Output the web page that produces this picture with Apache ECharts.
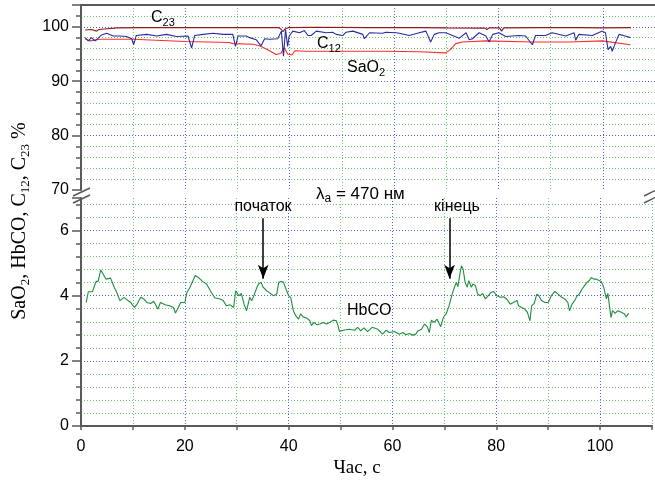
<!DOCTYPE html>
<html>
<head>
<meta charset="utf-8">
<script src="https://cdn.jsdelivr.net/npm/echarts@6/dist/echarts.min.js"></script>
<style>
  html, body { margin: 0; padding: 0; background: #fff; }
  #chart { width: 655px; height: 483px; }
</style>
</head>
<body>
<div id="chart"></div>
<script>
// ---- tick labels ----
const xTickLabels = [0, 20, 40, 60, 80, 100];
const yTopTickLabels = [70, 80, 90, 100];
const yBottomTickLabels = [0, 2, 4, 6];

// ---- C23, % ----
const c23T = [0.8, 2.0, 3.0, 3.4, 4.5, 7.0, 12, 20, 30, 37.9, 38.4, 38.7, 39.1, 39.8, 45, 55, 65, 70, 77.4, 77.8, 78.2, 80.2, 80.6, 81.0, 88, 95, 100, 105.4];
const c23V = [99.4, 99.5, 99.2, 99.5, 99.6, 99.8, 99.85, 99.85, 99.85, 99.85, 99.5, 99.1, 99.6, 99.85, 99.9, 99.85, 99.85, 99.8, 99.75, 99.5, 99.8, 99.8, 99.2, 99.8, 99.85, 99.85, 99.8, 99.85];

// ---- C12, % ----
const c12T = [0.76, 1.4, 2.0, 2.7, 3.3, 3.95, 4.9, 6.2, 7.5, 8.7, 9.7, 10.1, 10.6, 12.6, 14.5, 16.4, 18.3, 20.5, 21.2, 21.8,
  23.4, 25.3, 27.2, 29.1, 29.6, 30.1, 31.7, 32.3, 33.6, 34.5, 35.2, 36.1, 37.7, 38.4, 38.8, 39.2, 39.6, 39.9, 40.6, 41.9,
  42.8, 43.5, 44.1, 45.1, 47.0, 48.2, 48.9, 50.2, 50.8, 52.1, 54.0, 54.3, 55.3, 57.8, 58.4, 60.4, 61.0, 62.9, 64.8, 66.1,
  67.0, 67.7, 68.6, 69.9, 71.2, 72.5, 73.8, 74.4, 75.0, 76.3, 77.6, 78.2, 78.9, 80.1, 81.4, 83.9, 85.2, 86.5, 87.1, 89.0,
  90.3, 92.9, 94.5, 94.8, 95.4, 98.0, 99.9, 100.5, 101.0, 101.5, 101.8, 102.4, 103.1, 104.3, 105.3];
const c12V = [98.0, 97.4, 98.0, 97.4, 97.9, 98.5, 98.8, 98.3, 98.3, 98.2, 97.8, 96.7, 98.4, 98.6, 98.3, 98.6, 98.2, 98.3, 96.1, 98.4,
  98.6, 98.8, 98.6, 98.6, 96.4, 98.3, 98.3, 98.0, 97.6, 96.5, 97.8, 97.7, 97.8, 99.2, 94.6, 99.5, 96.4, 98.3, 99.2, 98.9,
  99.3, 98.4, 98.4, 99.2, 98.9, 99.0, 98.6, 98.4, 99.0, 99.2, 98.6, 97.8, 98.9, 98.8, 99.0, 98.9, 98.8, 98.4, 98.9, 99.2,
  97.2, 98.6, 98.9, 98.9, 98.4, 97.9, 98.9, 97.6, 97.8, 98.9, 98.3, 97.2, 98.6, 98.9, 98.2, 98.4, 98.3, 96.7, 98.4, 98.4,
  98.9, 98.3, 98.9, 97.5, 98.6, 98.4, 99.2, 98.9, 95.8, 96.4, 95.5, 97.0, 98.6, 98.3, 98.0];

// ---- SaO2, % ----
const sao2T = [0.8, 1.7, 3.6, 10, 20, 28.5, 29.1, 33.0, 34.2, 35.5, 37.4, 38.3, 38.9, 39.6, 40.4, 41.0, 43.0, 47.6, 52.1, 58, 64.8, 69.9, 70.8, 71.8, 73.1, 77.6, 86.5, 93.5, 99.9, 105.3];
const sao2V = [97.8, 97.4, 97.7, 97.7, 97.3, 97.1, 96.9, 96.8, 96.5, 95.9, 94.9, 95.1, 96.2, 95.0, 94.8, 95.6, 95.5, 95.5, 95.5, 95.5, 95.4, 95.2, 95.8, 96.9, 97.2, 97.4, 97.2, 97.2, 97.4, 96.7];

// ---- HbCO, % ----
const hbcoT = [1.0, 1.4, 2.2, 2.9, 3.3, 3.8, 4.3, 4.8, 5.7, 6.4, 6.9, 7.5, 8.3, 8.9, 9.6, 10.3, 10.8, 11.5, 12.1, 12.7,
  13.4, 14.0, 14.8, 15.3, 16.2, 17.1, 17.8, 18.2, 18.6, 19.2, 20.0, 20.4, 21.0, 22.0, 22.6, 23.4, 24.2, 25.0, 25.8, 26.8,
  27.4, 28.0, 28.7, 29.4, 29.8, 30.4, 30.9, 31.4, 31.9, 32.5, 32.9, 33.3, 33.9, 34.2, 34.7, 35.1, 35.8, 37.1, 37.7, 38.1,
  38.5, 39.0, 39.3, 40.0, 40.4, 40.9, 41.4, 41.9, 42.3, 42.8, 43.5, 44.1, 44.4, 44.9, 45.4, 46.0, 46.7, 47.3, 47.9, 48.6,
  49.2, 49.5, 49.8, 50.5, 51.7, 52.7, 53.3, 53.9, 54.5, 55.2, 56.1, 57.2, 58.1, 58.8, 59.4, 60.4, 61.3, 62.0, 62.6, 63.2,
  63.9, 64.5, 64.9, 65.6, 66.2, 66.7, 67.1, 67.5, 68.0, 68.6, 69.3, 69.8, 70.4, 70.9, 71.5, 71.95, 72.3, 72.6, 73.0, 73.3,
  73.6, 74.0, 74.4, 74.7, 75.2, 75.5, 76.0, 76.4, 76.9, 77.4, 77.9, 78.3, 79.0, 79.5, 80.1, 80.8, 81.4, 82.0, 82.7, 83.3,
  84.0, 84.3, 84.9, 85.5, 86.0, 86.5, 86.8, 87.3, 87.8, 88.2, 88.7, 89.4, 90.0, 90.6, 91.3, 91.9, 92.6, 93.2, 93.8, 94.1,
  94.6, 95.1, 95.6, 96.0, 96.5, 97.0, 97.5, 97.9, 98.3, 98.8, 99.2, 99.6, 100.2, 100.7, 101.2, 101.5, 101.8, 102.1, 102.4, 102.9,
  103.4, 104.1, 104.7, 105.0, 105.5];
const hbcoV = [3.79, 4.12, 4.12, 4.44, 4.44, 4.79, 4.65, 4.51, 4.54, 4.26, 4.10, 3.85, 3.95, 3.87, 3.79, 3.64, 3.74, 3.95, 3.90, 3.79,
  3.76, 3.83, 3.59, 3.79, 3.72, 3.69, 3.64, 3.47, 3.59, 3.79, 3.79, 4.10, 4.26, 4.62, 4.56, 4.44, 4.36, 4.13, 3.93, 3.90,
  3.85, 3.69, 3.72, 3.64, 4.15, 4.00, 4.07, 3.74, 3.54, 3.95, 3.85, 4.00, 4.26, 4.36, 4.41, 4.26, 4.15, 4.00, 4.05, 4.41,
  4.44, 4.41, 4.36, 4.00, 3.95, 3.54, 3.38, 3.28, 3.44, 3.35, 3.31, 3.23, 3.08, 3.18, 3.11, 3.13, 3.18, 3.13, 3.18, 3.25,
  3.23, 3.08, 2.90, 2.94, 2.97, 2.94, 3.03, 2.92, 3.01, 2.90, 3.03, 2.97, 2.82, 2.94, 2.87, 2.90, 2.82, 2.87, 2.80, 2.84,
  2.79, 2.82, 2.92, 2.97, 3.13, 3.05, 2.87, 3.25, 3.18, 3.28, 3.05, 3.33, 3.46, 3.69, 4.05, 4.26, 4.41, 4.28, 4.67, 4.92,
  4.82, 4.41, 4.26, 4.46, 4.26, 4.36, 4.31, 4.05, 4.00, 4.07, 3.90, 3.97, 4.10, 4.13, 4.00, 3.95, 3.97, 3.90, 3.74, 3.79,
  3.85, 3.69, 3.64, 3.59, 3.49, 3.23, 3.69, 3.76, 4.05, 4.00, 3.85, 3.79, 3.79, 4.00, 4.13, 4.05, 3.95, 3.90, 3.79, 3.54,
  3.74, 3.85, 4.00, 4.05, 4.20, 4.31, 4.41, 4.46, 4.56, 4.51, 4.51, 4.48, 4.44, 4.26, 3.90, 4.07, 3.69, 3.33, 3.54, 3.46,
  3.54, 3.49, 3.44, 3.35, 3.46];

// start / end arrows on the HbCO trace: [time, from, to]
const startMark = [35.1, 6.38, 4.52];
const endMark = [71.0, 6.38, 4.52];

const zip = (t, v) => t.map((x, i) => [x, v[i]]);

const SANS = 'Arial, "Liberation Sans", Helvetica, sans-serif';
const SERIF = '"Times New Roman", "Liberation Serif", "DejaVu Serif", serif';
const AXIS_COLOR = '#5a5a5a';
const MAJOR_GRID = '#5565cf';
const MINOR_GRID = '#72c872';
const DOT = [1, 2];
const NONE = 'rgba(0,0,0,0)';

// split-line colour tables, one entry per tick line
const topMajorColors = [NONE, MAJOR_GRID, MAJOR_GRID, MAJOR_GRID, MAJOR_GRID];
const topMinorColors = [NONE, MINOR_GRID, MINOR_GRID, MINOR_GRID, MINOR_GRID];
const botMajorColors = [NONE, MAJOR_GRID, MAJOR_GRID, MAJOR_GRID, NONE];
const botMinorColors = [];
for (let i = 0; i <= 18; i++) botMinorColors.push(i % 5 === 0 || i === 18 ? NONE : MINOR_GRID);

const xSplit = () => ({ show: true, lineStyle: { color: [MAJOR_GRID, MINOR_GRID], type: DOT.slice(), width: 1 } });

const chart = echarts.init(document.getElementById('chart'), null, { renderer: 'canvas' });

const subRich = (size, subSize, font) => ({
  m: { fontFamily: font, fontSize: size, lineHeight: size + 4, fill: '#000', color: '#000' },
  s: { fontFamily: font, fontSize: subSize, lineHeight: subSize, verticalAlign: 'bottom', fill: '#000', color: '#000' }
});

function richText(x, y, text, size, subSize, font, align, rotation) {
  return {
    type: 'text', x: x, y: y, rotation: rotation || 0, silent: true, z: 100,
    style: {
      text: text, rich: subRich(size, subSize, font),
      fontFamily: font, fontSize: size, fill: '#000',
      align: align || 'left', verticalAlign: 'middle',
      textAlign: align || 'left', textVerticalAlign: 'middle'
    }
  };
}

function plainText(x, y, text, size, font, align) {
  return { type: 'text', x: x, y: y, silent: true, z: 100,
    style: { text: text, fontFamily: font, fontSize: size, fill: '#000',
      align: align, verticalAlign: 'middle', textAlign: align, textVerticalAlign: 'middle' } };
}

function breakLine(x1, y1, x2, y2) {
  return { type: 'line', silent: true, z: 100,
    shape: { x1: x1, y1: y1, x2: x2, y2: y2 },
    style: { stroke: AXIS_COLOR, lineWidth: 1.5 } };
}

const option = {
  animation: false,
  backgroundColor: '#fff',
  grid: [
    { left: 81, top: 5, width: 574, height: 185 },
    { left: 81, top: 198, width: 574, height: 228 }
  ],
  xAxis: [
    { gridIndex: 0, type: 'value', min: 0, max: 110, interval: 10, position: 'top',
      axisLine: { show: true, onZero: false, lineStyle: { color: AXIS_COLOR, width: 2 } },
      axisTick: { show: false }, axisLabel: { show: false }, splitLine: xSplit() },
    { gridIndex: 1, type: 'value', min: 0, max: 110, interval: 10, position: 'bottom',
      axisLine: { show: true, onZero: false, lineStyle: { color: AXIS_COLOR, width: 2 } },
      axisTick: { show: true, length: 4, lineStyle: { color: AXIS_COLOR, width: 1.5 } },
      axisLabel: { fontFamily: SANS, fontSize: 16, color: '#000', margin: 13,
        formatter: v => (xTickLabels.indexOf(v) >= 0 ? String(v) : '') },
      splitLine: xSplit() }
  ],
  yAxis: [
    { gridIndex: 0, type: 'value', min: 70, max: 104, interval: 10, position: 'left',
      axisLine: { show: true, onZero: false, lineStyle: { color: AXIS_COLOR, width: 2 } },
      axisTick: { show: true, length: 9, lineStyle: { color: AXIS_COLOR, width: 1.5 } },
      axisLabel: { fontFamily: SANS, fontSize: 16, color: '#000', margin: 12,
        formatter: v => (yTopTickLabels.indexOf(v) >= 0 ? String(v) : '') },
      splitLine: { show: true, lineStyle: { color: topMajorColors, type: DOT.slice(), width: 1 } } },
    { gridIndex: 0, type: 'value', min: 70, max: 104, interval: 2, position: 'left',
      axisLine: { show: false }, axisLabel: { show: false },
      axisTick: { show: true, length: 5, lineStyle: { color: AXIS_COLOR, width: 1.5 } },
      splitLine: { show: true, lineStyle: { color: topMinorColors, type: DOT.slice(), width: 1 } } },
    { gridIndex: 1, type: 'value', min: 0, max: 7, interval: 2, position: 'left',
      axisLine: { show: true, onZero: false, lineStyle: { color: AXIS_COLOR, width: 2 } },
      axisTick: { show: true, length: 9, lineStyle: { color: AXIS_COLOR, width: 1.5 } },
      axisLabel: { fontFamily: SANS, fontSize: 16, color: '#000', margin: 12,
        formatter: v => (yBottomTickLabels.indexOf(v) >= 0 ? String(v) : '') },
      splitLine: { show: true, lineStyle: { color: botMajorColors, type: DOT.slice(), width: 1 } } },
    { gridIndex: 1, type: 'value', min: 0, max: 7, interval: 0.4, position: 'left',
      axisLine: { show: false }, axisLabel: { show: false },
      axisTick: { show: true, length: 5, lineStyle: { color: AXIS_COLOR, width: 1.5 } },
      splitLine: { show: true, lineStyle: { color: botMinorColors, type: DOT.slice(), width: 1 } } }
  ],
  series: [
    { name: 'SaO2', type: 'line', xAxisIndex: 0, yAxisIndex: 0, data: zip(sao2T, sao2V),
      showSymbol: false, lineStyle: { color: '#ff2d2d', width: 1.1 }, z: 3 },
    { name: 'C12', type: 'line', xAxisIndex: 0, yAxisIndex: 0, data: zip(c12T, c12V),
      showSymbol: false, lineStyle: { color: '#2b2ba6', width: 1.1 }, z: 4 },
    { name: 'C23', type: 'line', xAxisIndex: 0, yAxisIndex: 0, data: zip(c23T, c23V),
      showSymbol: false, lineStyle: { color: '#8c1c1c', width: 1.1 }, z: 5 },
    { name: 'HbCO', type: 'line', xAxisIndex: 1, yAxisIndex: 2, data: zip(hbcoT, hbcoV),
      showSymbol: false, lineStyle: { color: '#1f8f3f', width: 1.1 }, z: 3,
      markLine: {
        silent: true, symbol: ['none', 'arrow'], symbolSize: [8, 14],
        lineStyle: { color: '#000', width: 1.5, type: 'solid' },
        label: { show: false }, emphasis: { disabled: true },
        data: [
          [{ coord: [startMark[0], startMark[1]] }, { coord: [startMark[0], startMark[2]] }],
          [{ coord: [endMark[0], endMark[1]] }, { coord: [endMark[0], endMark[2]] }]
        ]
      } }
  ],
  graphic: [
    richText(20, 221, '{m|SaO}{s|2}{m|, HbCO, C}{s|12}{m|, C}{s|23}{m| %}', 20, 13, SERIF, 'center', Math.PI / 2),
    plainText(357, 468, 'Час, с', 19, SERIF, 'center'),
    richText(151, 18, '{m|C}{s|23}', 16, 11, SANS, 'left'),
    richText(317, 44, '{m|C}{s|12}', 16, 11, SANS, 'left'),
    richText(347, 68, '{m|SaO}{s|2}', 16, 11, SANS, 'left'),
    plainText(347, 311, 'HbCO', 16, SANS, 'left'),
    richText(316, 194, '{m|λ}{s|a}{m| = 470 нм}', 17, 12, SANS, 'left'),
    plainText(263, 207, 'початок', 16, SANS, 'center'),
    plainText(457, 207, 'кінець', 16, SANS, 'center'),
    // axis break marks
    breakLine(73, 196, 90, 188),
    breakLine(73, 203, 90, 195),
    breakLine(644, 196, 660, 188),
    breakLine(644, 203, 660, 195)
  ]
};

chart.setOption(option);
</script>
</body>
</html>
